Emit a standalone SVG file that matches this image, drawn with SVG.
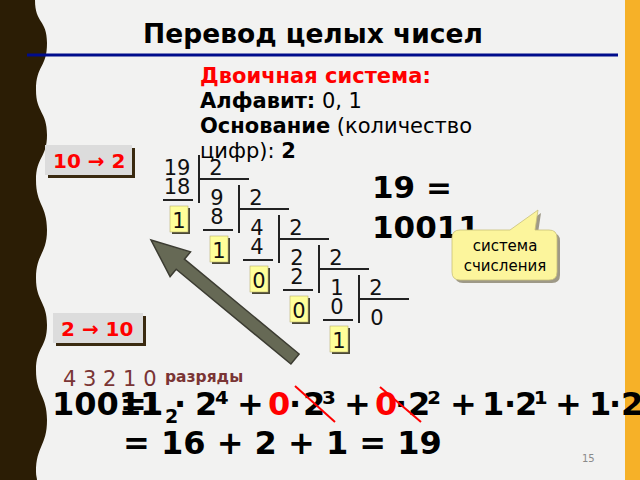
<svg xmlns="http://www.w3.org/2000/svg" width="640" height="480" viewBox="0 0 640 480">
<style>
text{font-family:"DejaVu Sans",sans-serif}
.b{font-weight:bold}
.d{font-size:21px;fill:#111;text-anchor:middle}
.ln{stroke:#222;stroke-width:2;fill:none}
.yb{fill:#ffff99;stroke:#b8b070;stroke-width:0.6}
.ysh{fill:#4a4836}
.btn{fill:#dcdcdc}
.bsh{fill:#3a2a10}
.bt{font-size:20px;font-weight:bold;fill:#ff0000}
.f{font-size:32px;font-weight:bold;fill:#000}
.red{fill:#ff0000}
.strike{stroke:#ff0000;stroke-width:2}
</style>
<rect width="640" height="480" fill="#f2f2f1"/>
<path d="M0,0 H35 C35,24 47,19 47,43 C47,68 36,65 36,90 C36,113 47,111 47,135 C47,158 36,157 36,180 C36,205 47,205 47,230 C47,254 36,254 36,278 C36,302 47,301 47,325 C47,348 36,347 36,370 C36,395 47,395 47,420 C47,446 36,446 36,472 C36,476 37,478 37,480 H0 Z" fill="#2b1d05"/>
<rect x="625" y="0" width="15" height="480" fill="#f6b128"/>

<g id="title">
<text x="313" y="43" text-anchor="middle" class="b" font-size="26.5" fill="#000">Перевод целых чисел</text>
<line x1="27" y1="55" x2="618" y2="55" stroke="#000c8c" stroke-width="3"/>
</g>

<g id="info" font-size="21" fill="#000">
<text x="200" y="83" class="b red">Двоичная система:</text>
<text x="200" y="108"><tspan class="b">Алфавит:</tspan> 0, 1</text>
<text x="200" y="133"><tspan class="b">Основание</tspan> (количество</text>
<text x="200" y="158">цифр): <tspan class="b">2</tspan></text>
</g>

<g id="btn-10-2">
<rect x="48" y="148" width="87" height="30" class="bsh"/>
<rect x="45" y="145" width="87" height="30" class="btn"/>
<text x="53" y="168" class="bt">10 → 2</text>
</g>
<g id="btn-2-10">
<rect x="56" y="316" width="90" height="30" class="bsh"/>
<rect x="53" y="313" width="90" height="30" class="btn"/>
<text x="61" y="336" class="bt">2 → 10</text>
</g>

<g id="division">
<g id="step0">
<text x="177" y="175" class="d">19</text><text x="216" y="175" class="d">2</text>
<line x1="199" y1="155" x2="199" y2="203" class="ln"/><line x1="199" y1="179" x2="249" y2="179" class="ln"/>
<text x="177" y="194" class="d">18</text><line x1="163" y1="200" x2="193" y2="200" class="ln"/>
<rect x="172" y="208" width="18" height="26" class="ysh"/><rect x="170" y="206" width="18" height="26" class="yb"/><text x="179" y="228" class="d">1</text>
</g>
<g id="step1" transform="translate(40,30)">
<text x="177" y="175" class="d">9</text><text x="216" y="175" class="d">2</text>
<line x1="199" y1="155" x2="199" y2="203" class="ln"/><line x1="199" y1="179" x2="249" y2="179" class="ln"/>
<text x="177" y="194" class="d">8</text><line x1="163" y1="200" x2="193" y2="200" class="ln"/>
<rect x="172" y="208" width="18" height="26" class="ysh"/><rect x="170" y="206" width="18" height="26" class="yb"/><text x="179" y="228" class="d">1</text>
</g>
<g id="step2" transform="translate(80,60)">
<text x="177" y="175" class="d">4</text><text x="216" y="175" class="d">2</text>
<line x1="199" y1="155" x2="199" y2="203" class="ln"/><line x1="199" y1="179" x2="249" y2="179" class="ln"/>
<text x="177" y="194" class="d">4</text><line x1="163" y1="200" x2="193" y2="200" class="ln"/>
<rect x="172" y="208" width="18" height="26" class="ysh"/><rect x="170" y="206" width="18" height="26" class="yb"/><text x="179" y="228" class="d">0</text>
</g>
<g id="step3" transform="translate(120,90)">
<text x="177" y="175" class="d">2</text><text x="216" y="175" class="d">2</text>
<line x1="199" y1="155" x2="199" y2="203" class="ln"/><line x1="199" y1="179" x2="249" y2="179" class="ln"/>
<text x="177" y="194" class="d">2</text><line x1="163" y1="200" x2="193" y2="200" class="ln"/>
<rect x="172" y="208" width="18" height="26" class="ysh"/><rect x="170" y="206" width="18" height="26" class="yb"/><text x="179" y="228" class="d">0</text>
</g>
<g id="step4" transform="translate(160,120)">
<text x="177" y="175" class="d">1</text><text x="216" y="175" class="d">2</text>
<line x1="199" y1="155" x2="199" y2="203" class="ln"/><line x1="199" y1="179" x2="249" y2="179" class="ln"/>
<text x="177" y="194" class="d">0</text><line x1="163" y1="200" x2="193" y2="200" class="ln"/>
<rect x="172" y="208" width="18" height="26" class="ysh"/><rect x="170" y="206" width="18" height="26" class="yb"/><text x="179" y="228" class="d">1</text>
</g>
<text x="377" y="325" class="d">0</text>
</g>

<g id="result">
<text x="372" y="198" class="b" font-size="31">19 =</text>
<text x="372" y="238" class="b" font-size="31">10011</text>
</g>

<g id="callout">
<path d="M460,230 H510 L538,210 L535,230 H549 Q557,230 557,238 V272 Q557,280 549,280 H460 Q452,280 452,272 V238 Q452,230 460,230 Z" fill="#5a5030" opacity="0.55" transform="translate(3,3)"/>
<path d="M460,230 H510 L538,210 L535,230 H549 Q557,230 557,238 V272 Q557,280 549,280 H460 Q452,280 452,272 V238 Q452,230 460,230 Z" fill="#fcf59c" stroke="#c9c07a" stroke-width="0.8"/>
<text x="505" y="251" text-anchor="middle" font-size="15" fill="#000">система</text>
<text x="505" y="271" text-anchor="middle" font-size="15" fill="#000">счисления</text>
</g>

<g id="connectors">
<polygon points="151,240 190.5,251.9 184.4,259.2 299.1,354 290.9,364 176.2,269.2 170.1,276.6" fill="#666955" stroke="#3c3c32" stroke-width="1.5" stroke-linejoin="miter"/>
</g>

<g id="digits">
<text x="63" y="386" font-size="21" fill="#7a3535">4 3 2 1 0</text>
<text x="165" y="382" font-size="15.5" class="b" fill="#7a3535">разряды</text>
</g>

<g id="formula">
<text x="52" y="415" class="f">10011</text>
<text x="165" y="423" class="b" font-size="19">2</text>
<text y="415" class="f"><tspan x="120">=</tspan><tspan x="140">1</tspan><tspan x="174">·</tspan><tspan x="195">2</tspan><tspan x="215">⁴</tspan><tspan x="237">+</tspan><tspan x="268" class="red">0</tspan><tspan x="289">·</tspan><tspan x="303">2</tspan><tspan x="322">³</tspan><tspan x="344">+</tspan><tspan x="375" class="red">0</tspan><tspan x="395">·</tspan><tspan x="408">2</tspan><tspan x="427">²</tspan><tspan x="450">+</tspan><tspan x="482">1</tspan><tspan x="504">·</tspan><tspan x="515">2</tspan><tspan x="534">¹</tspan><tspan x="555">+</tspan><tspan x="589">1</tspan><tspan x="609">·</tspan><tspan x="621">2</tspan></text>
<line x1="295" y1="386" x2="335" y2="422" class="strike"/>
<line x1="380" y1="387" x2="421" y2="422" class="strike"/>
<text x="123" y="454" class="f">= 16 + 2 + 1 = 19</text>
<text x="582" y="462" font-size="10" fill="#8a8a8a">15</text>
</g>
</svg>
